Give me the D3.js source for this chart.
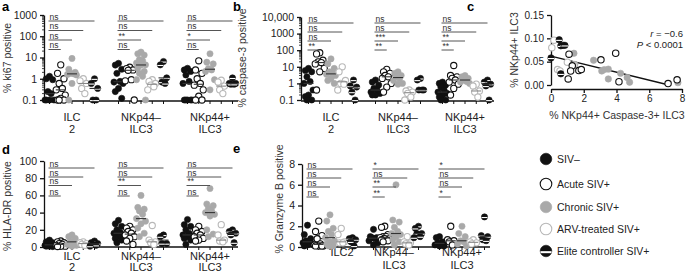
<!DOCTYPE html>
<html><head><meta charset="utf-8">
<script src="https://cdn.jsdelivr.net/npm/d3@7"></script>
<style>
body{margin:0;background:#fff}
text{font-family:"Liberation Sans",Arial,sans-serif}
</style></head><body>
<svg width="687" height="273"></svg>
<script>
const conditions = ["SIV–", "Acute SIV+", "Chronic SIV+", "ARV-treated SIV+", "Elite controller SIV+"];
const groupLabels = [["ILC", "2"], ["NKp44–", "ILC3"], ["NKp44+", "ILC3"]];
const groupLabelsE = [["ILC2"], ["NKp44–", "ILC3"], ["NKp44+", "ILC3"]];

// a: % ki67 positive  (per group: SIV-, acute, chronic, ARV, elite)
const ki67_ILC2 = [[1.3,0.9,1.0,0.25,0.2,0.1,0.1,0.1,0.1],[4.5,1.8,1.0,0.6,0.35,0.3,0.17,0.12,0.1,0.1,0.1],[9,2.8,2.0,1.8,1.7,1.6,1.5,0.6,0.1],[1.0,0.8,0.6,0.35,0.2],[1.0,0.6,0.35,0.1,0.1]];
const ki67_NKm = [[5.3,4.4,2.8,1.8,0.75,0.7,0.6,0.35,0.25,0.12],[3.5,3.0,2.6,2.5,0.9,0.8,0.1],[18,15,13,8,7,5.5,4.5,4.4,3.2,2.2,1.8,1.3,0.9,0.1],[0.9,0.75,0.6,0.5,0.42,0.3],[6.5,4.5,1.1,0.7,0.6]];
const ki67_NKp = [[3.1,2.6,2.2,1.5,0.75,0.6,0.1,0.1,0.1,0.1,0.1],[7,2.6,1.8,1.0,0.6,0.5,0.3,0.15,0.1,0.1],[15,6,5,3,2.6,2.2,0.9,0.3],[0.85,0.7,0.45,0.3,0.2],[1.1,0.6,0.6,0.55,0.55]];

// b: % caspase-3 positive
const casp_ILC2 = [[8,6,5,2.5,1.3,1.0,0.4,0.2,0.16,0.1,0.1],[70,60,25,20,18,15,8,5,0.4],[30,15,8,5,4,3.5,3,2,1.5,1],[10,5,1.5,1.0,0.9,0.4],[1.6,0.7,0.6,0.3,0.1]];
const casp_NKm = [[1.6,1.2,0.8,0.5,0.4,0.3,0.25,0.2,0.2],[7,5,4,3,2.5,2,1,0.6,0.3],[5,4,3,2.5,2,1.5,1,0.9],[0.4,0.35,0.3,0.25,0.15,0.1],[2,1.6,0.4,0.4,0.4]];
const casp_NKp = [[1.2,1,0.8,0.6,0.4,0.3,0.25,0.2,0.15,0.1,0.1],[12,3,2.5,2,1.6,1.2,0.9,0.5,0.2],[3,2.5,2,1.6,1.3,1.2,1.0],[0.9,0.7,0.35,0.3,0.15],[1.6,1.2,0.9,0.7,0.1]];

// d: % HLA-DR positive
const hla_ILC2 = [[8,6,5,4,3,2,2,1,1,0.5],[7,6,5,4,3,2,1,1,0.5],[14,12,10,7,5,3,2,1],[6,5,4,3,2],[7,5,4,3,2,1]];
const hla_NKm = [[31,27,24,20,17,16,14,12,10,8,5],[24,22,20,18,16,14,12,10,7,3],[60,46,44,42,38,33,30,27,22,16,12],[25,8,6,5,3],[14,12,4,4]];
const hla_NKp = [[32,26,24,20,16,14,13,12,10,8,3],[24,20,18,16,14,12,10,8,7],[68,50,48,45,42,40,38,36,20,15,12],[26,14,8,7,6],[20,18,16,14,5]];

// e: % Granzyme B positive
const gzb_ILC2 = [[2.1,1.2,0.8,0.6,0.5,0.4,0.3,0.2,0.1],[2.5,1.5,1.1,0.8,0.3,0.2,0.1,0.1,0.1,0.1],[3.1,2.5,1.8,1.5,1.2,0.9,0.6,0.5,0.3,0.1,0.1],[1.8,1.2,0.5,0.4,0.4],[0.9,0.8,0.7,0.5,0.1]];
const gzb_NKm = [[1.7,1.0,0.9,0.9,0.8,0.6,0.4,0.2],[2.0,1.9,1.2,1.0,1.0,0.9,0.8,0.8,0.7,0.6,0.5],[6.0,2.6,2.4,1.9,1.5,1.3,1.2,1.0,0.7,0.5,0.2],[1.0,0.5,0.4,0.3,0.2],[2.0,1.8,1.3,1.3,1.0,0.9]];
const gzb_NKp = [[1.0,0.9,0.5,0.4,0.3,0.2,0.1,0.1],[2.0,0.7,0.6,0.5,0.2],[2.0,1.3,1.0,0.6,0.5,0.3,0.1],[0.7,0.5,0.4,0.3],[2.9,1.1,1.0,0.7,0.6]];

// significance labels, top bracket first (spans col 1 -> col 5, then 4, 3, 2)
const sig_a = [["ns","ns","ns","ns"],["ns","ns","**","ns"],["ns","ns","*","ns"]];
const sig_b = [["ns","ns","ns","**"],["ns","ns","***","**"],["ns","ns","**","**"]];
const sig_d = [["ns","ns","ns","ns"],["ns","ns","**","ns"],["ns","ns","**","ns"]];
const sig_e = [["ns","ns","ns","ns"],["*","ns","**","**"],["*","ns","ns","*"]];

// c: scatter, [x = % NKp44+ caspase-3+ ILC3, y = % NKp44+ ILC3]
const c_acute = [[1.1,0.066],[1.3,0.041],[1.2,0.03],[1.05,0.013],[1.7,0.031],[1.85,0.033],[3.05,0.054],[3.95,0.068],[4.15,0.007],[7.15,0.003],[7.7,0.011]];
const c_chronic = [[1.4,0.068],[1.45,0.044],[2.6,0.053],[3.1,0.03],[3.25,0.033],[3.5,0.034],[3.5,0.013],[4.25,0.025],[4.65,0.016],[4.8,0.006],[7.75,0.005]];
const c_arv = [[0.18,0.096],[0.05,0.08],[0.4,0.033],[0.55,0.03],[1.0,0.049],[1.4,0.043]];
const c_elite = [[0.5,0.097],[0.6,0.084],[0.75,0.085],[0.85,0.085],[0.0,0.058],[0.6,0.024]];
const c_fit = [[0, 0.062], [7.2, 0]];

const svg = d3.select("svg");
const INK = "#111";

function marker(g, cond, x, y, r) {
    const fills = ["#111", "#fff", "#a9a9a9", "#fff", "#111"];
    const strokes = ["#111", "#111", "#a9a9a9", "#b8b8b8", "#111"];
    g.append("circle").attr("cx", x).attr("cy", y).attr("r", r)
        .attr("fill", fills[cond]).attr("stroke", strokes[cond])
        .attr("stroke-width", cond == 1 || cond == 3 ? 1.1 : 0.6);
    if (cond == 4) {
        g.append("line").attr("x1", x - r * 0.95).attr("x2", x + r * 0.95)
            .attr("y1", y + r * 0.2).attr("y2", y + r * 0.2)
            .attr("stroke", "#fff").attr("stroke-width", r * 0.35);
    }
}

function drawPanel(cfg) {
    const g = svg.append("g");
    const xg = d3.scalePoint().domain([0, 1, 2]).range(cfg.groupRange);
    const xc = d3.scalePoint().domain([0, 1, 2, 3, 4]).range([-22.5, 22.5]);
    const y = cfg.y;

    // y axis
    const ax = g.append("g").attr("transform", `translate(${cfg.axisX},0)`)
        .call(d3.axisLeft(y).tickValues(cfg.ticks).tickFormat(cfg.fmt).tickSize(4).tickSizeOuter(0).tickPadding(3));
    ax.selectAll("text").attr("font-size", 10.5).attr("fill", "#222").style("font-family", "Liberation Sans, Arial");
    ax.selectAll("path,line").attr("stroke", INK).attr("stroke-width", 1.3);
    if (cfg.log) {
        const minor = [];
        cfg.ticks.slice(0, -1).forEach(t => { for (let k = 2; k < 10; k++) minor.push(t * k); });
        g.selectAll(".mn").data(minor).enter().append("line")
            .attr("x1", cfg.axisX - 2).attr("x2", cfg.axisX).attr("y1", d => y(d)).attr("y2", d => y(d))
            .attr("stroke", INK).attr("stroke-width", 0.8);
    }

    // x axis
    g.append("line").attr("x1", cfg.axisX).attr("x2", cfg.xEnd).attr("y1", cfg.baseY).attr("y2", cfg.baseY)
        .attr("stroke", INK).attr("stroke-width", 1.3);
    [0, 1, 2].forEach(gi => [0, 1, 2, 3, 4].forEach(ci => {
        const x = xg(gi) + xc(ci);
        g.append("line").attr("x1", x).attr("x2", x).attr("y1", cfg.baseY).attr("y2", cfg.baseY + 3)
            .attr("stroke", INK).attr("stroke-width", 1);
    }));

    // group labels
    cfg.labels.forEach((lines, gi) => {
        lines.forEach((t, li) => {
            g.append("text").attr("x", xg(gi) + (cfg.labelDx ? cfg.labelDx[gi] : 0)).attr("y", cfg.labelY + li * cfg.labelGap)
                .attr("text-anchor", "middle").attr("font-size", 11).attr("fill", "#222").text(t);
        });
    });

    // points
    const jit = [0, -3.2, 3.2, -1.6, 1.6, -4.5, 4.5];
    cfg.data.forEach((grp, gi) => {
        grp.forEach((vals, ci) => {
            const cx = xg(gi) + xc(ci);
            vals.slice().sort((a, b) => b - a).forEach((v, i) => {
                marker(g, ci, cx + jit[i % 7], y(Math.max(v, cfg.floor)), 3.1);
            });
            const m = d3.median(vals);
            g.append("line").attr("x1", cx - 5).attr("x2", cx + 5).attr("y1", y(Math.max(m, cfg.floor))).attr("y2", y(Math.max(m, cfg.floor)))
                .attr("stroke", ci == 3 ? "#888" : "#333").attr("stroke-width", 1.1);
        });
    });

    // significance brackets
    cfg.sig.forEach((row, gi) => {
        row.forEach((t, k) => {
            const x0 = xg(gi) + xc(0), x1 = xg(gi) + xc(4 - k);
            const ly = cfg.sigY[k];
            g.append("line").attr("x1", x0 - 1).attr("x2", x1).attr("y1", ly).attr("y2", ly)
                .attr("stroke", "#555").attr("stroke-width", 1);
            g.append("text").attr("x", x0).attr("y", ly - 1.5).attr("font-size", 8.5)
                .attr("fill", "#333").text(t);
        });
    });

    // title + letter
    g.append("text").attr("transform", `translate(${cfg.titleX},${cfg.titleY}) rotate(-90)`)
        .attr("text-anchor", "middle").attr("font-size", 10.5).attr("fill", "#333").text(cfg.title);
    g.append("text").attr("x", cfg.letter[1]).attr("y", cfg.letter[2]).attr("font-size", 13)
        .attr("font-weight", "bold").attr("fill", "#000").text(cfg.letter[0]);
}

const fmtLog = d => d < 1 ? "0.1" : (d >= 10000 ? d3.format(",")(d) : String(d));

drawPanel({
    data: [ki67_ILC2, ki67_NKm, ki67_NKp], log: true, floor: 0.1,
    y: d3.scaleLog().domain([0.1, 1000]).range([100, 15]),
    ticks: [0.1, 1, 10, 100, 1000], fmt: fmtLog,
    axisX: 44, baseY: 101, xEnd: 238, groupRange: [72, 210],
    labels: groupLabels, labelY: 121, labelGap: 11.5,
    sig: sig_a, sigY: [21, 30.5, 40, 49.5],
    title: "% ki67 positive", titleX: 11, titleY: 58, letter: ["a", 2, 11]
});
drawPanel({
    data: [casp_ILC2, casp_NKm, casp_NKp], log: true, floor: 0.1,
    y: d3.scaleLog().domain([0.1, 10000]).range([100, 17]),
    ticks: [0.1, 1, 10, 100, 1000, 10000], fmt: fmtLog,
    axisX: 301, baseY: 101, xEnd: 494, groupRange: [331, 465],
    labels: groupLabels, labelY: 121, labelGap: 11.5,
    sig: sig_b, sigY: [23, 32, 41, 50],
    title: "% caspase-3 positive", titleX: 246, titleY: 58, letter: ["b", 233, 11]
});
drawPanel({
    data: [hla_ILC2, hla_NKm, hla_NKp], log: false, floor: -1,
    y: d3.scaleLinear().domain([0, 100]).range([247, 161]),
    ticks: [0, 20, 40, 60, 80, 100], fmt: d3.format("d"),
    axisX: 44, baseY: 247, xEnd: 238, groupRange: [72, 210],
    labels: groupLabels, labelY: 260, labelGap: 11,
    sig: sig_d, sigY: [168, 177, 185.5, 196],
    title: "% HLA-DR positive", titleX: 11, titleY: 206, letter: ["d", 2, 154]
});
drawPanel({
    data: [gzb_ILC2, gzb_NKm, gzb_NKp], log: false, floor: -1,
    y: d3.scaleLinear().domain([0, 8]).range([247, 164]),
    ticks: [0, 2, 4, 6, 8], fmt: d3.format("d"),
    axisX: 302, baseY: 247, xEnd: 490, groupRange: [330, 462], labelDx: [12, -2, 0],
    labels: groupLabelsE, labelY: 256, labelGap: 13,
    sig: sig_e, sigY: [169, 178, 187, 197],
    title: "% Granzyme B positive", titleX: 283, titleY: 199, letter: ["e", 233, 153]
});

// panel c scatter
(function () {
    const g = svg.append("g");
    const x = d3.scaleLinear().domain([0, 8]).range([551, 682]);
    const y = d3.scaleLinear().domain([0, 0.15]).range([85, 15]);
    const ya = g.append("g").attr("transform", "translate(551,0)")
        .call(d3.axisLeft(y).tickValues([0, 0.05, 0.1, 0.15]).tickFormat(d3.format(".2f")).tickSize(4).tickSizeOuter(0).tickPadding(3));
    const xa = g.append("g").attr("transform", "translate(0,89)")
        .call(d3.axisBottom(x).tickValues([0, 2, 4, 6, 8]).tickSize(4).tickSizeOuter(0).tickPadding(2));
    [ya, xa].forEach(a => {
        a.selectAll("text").attr("font-size", 10).attr("fill", "#222").style("font-family", "Liberation Sans, Arial");
        a.selectAll("path,line").attr("stroke", INK).attr("stroke-width", 1.3);
    });
    const line = d3.line().x(d => x(d[0])).y(d => y(d[1]));
    g.append("path").attr("d", line(c_fit)).attr("stroke", "#111").attr("stroke-width", 1.4).attr("fill", "none");
    [[c_chronic, 2], [c_arv, 3], [c_acute, 1], [c_elite, 4]].forEach(([pts, cond]) => {
        pts.forEach(p => marker(g, cond, x(p[0]), y(p[1]), 3.2));
    });
    g.append("text").attr("x", 683).attr("y", 37).attr("text-anchor", "end").attr("font-size", 9.5).attr("fill", "#222")
        .html('<tspan font-style="italic">r</tspan> = −0.6');
    g.append("text").attr("x", 683).attr("y", 48).attr("text-anchor", "end").attr("font-size", 9.5).attr("fill", "#222")
        .html('<tspan font-style="italic">P</tspan> &lt; 0.0001');
    g.append("text").attr("transform", "translate(518,50) rotate(-90)").attr("text-anchor", "middle")
        .attr("font-size", 10.5).attr("fill", "#333").text("% NKp44+ ILC3");
    g.append("text").attr("x", 617).attr("y", 119).attr("text-anchor", "middle")
        .attr("font-size", 10.5).attr("fill", "#333").text("% NKp44+ Caspase-3+ ILC3");
    g.append("text").attr("x", 467).attr("y", 11).attr("font-size", 13).attr("font-weight", "bold").text("c");
})();

// legend
const leg = svg.append("g");
conditions.forEach((c, i) => {
    const yy = [159, 184, 207, 229, 251][i];
    marker(leg, i, 546, yy, 5.8);
    leg.append("text").attr("x", 557).attr("y", yy + 4).attr("font-size", 10.5).attr("fill", "#222").text(c);
});
</script>
</body></html>
